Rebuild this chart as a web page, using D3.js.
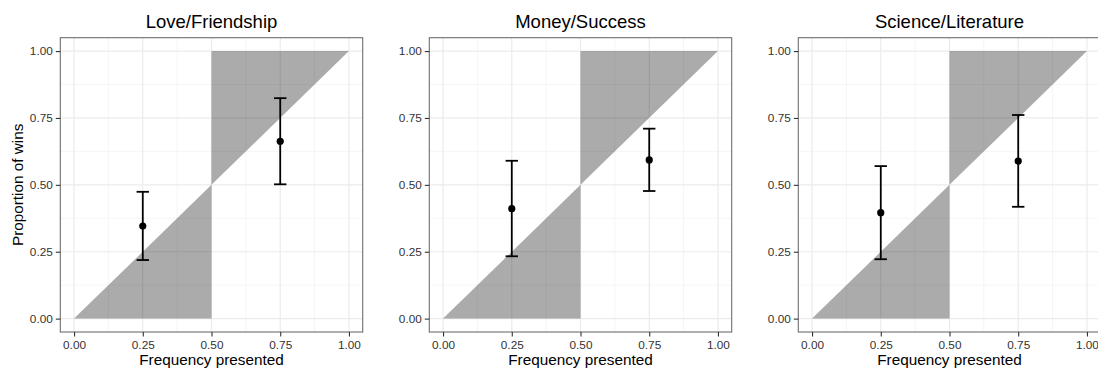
<!DOCTYPE html>
<html>
<head>
<meta charset="utf-8">
<script src="https://cdn.jsdelivr.net/npm/d3@7"></script>
<style>
  body { margin: 0; background: #fff; }
  svg { display: block; font-family: "Liberation Sans", Arial, Helvetica, sans-serif; }
  .tick text { fill: #333; font-size: 11.8px; }
  .tick line { stroke: #333; }
  .domain { display: none; }
</style>
</head>
<body>
<div id="chart"></div>
<script>
const WIDTH = 1098;
const HEIGHT = 369;
const PANEL_W = 302.4;
const PANEL_H = 294.3;
const PANEL_TOP = 37.7;
const PANEL_LEFTS = [60.3, 429.3, 798.3];

// data
const categories = ['Love/Friendship', 'Money/Success', 'Science/Literature'];
const freqPresented = [0.25, 0.75];
const meanWins = [[0.346, 0.663], [0.411, 0.593], [0.396, 0.589]];
const lowerCI = [[0.219, 0.502], [0.233, 0.477], [0.222, 0.418]];
const upperCI = [[0.474, 0.824], [0.590, 0.710], [0.570, 0.761]];
const majorTicks = [0, 0.25, 0.5, 0.75, 1];
const minorTicks = [0.125, 0.375, 0.625, 0.875];
const shadeLower = [[0, 0], [0.5, 0], [0.5, 0.5]];
const shadeUpper = [[0.5, 0.5], [0.5, 1], [1, 1]];
const CAP_WIDTH = 0.045;

const svg = d3.select('#chart')
  .append('svg')
  .attr('width', WIDTH)
  .attr('height', HEIGHT);

const fmt = d3.format('.2f');

categories.forEach((cat, i) => {
  const left = PANEL_LEFTS[i];
  const pad = PANEL_W / 1.1 * 0.05;
  const padY = PANEL_H / 1.1 * 0.05;

  const x = d3.scaleLinear().domain([-0.05, 1.05]).range([0, PANEL_W]);
  const y = d3.scaleLinear().domain([-0.05, 1.05]).range([PANEL_H, 0]);

  const g = svg.append('g')
    .attr('transform', `translate(${left}, ${PANEL_TOP})`);

  // grid
  g.selectAll('.minor-x').data(minorTicks).enter().append('line')
    .attr('x1', d => x(d)).attr('x2', d => x(d))
    .attr('y1', 0).attr('y2', PANEL_H)
    .attr('stroke', '#f3f3f3').attr('stroke-width', 0.8);
  g.selectAll('.minor-y').data(minorTicks).enter().append('line')
    .attr('y1', d => y(d)).attr('y2', d => y(d))
    .attr('x1', 0).attr('x2', PANEL_W)
    .attr('stroke', '#f3f3f3').attr('stroke-width', 0.8);
  g.selectAll('.major-x').data(majorTicks).enter().append('line')
    .attr('x1', d => x(d)).attr('x2', d => x(d))
    .attr('y1', 0).attr('y2', PANEL_H)
    .attr('stroke', '#ebebeb').attr('stroke-width', 1.2);
  g.selectAll('.major-y').data(majorTicks).enter().append('line')
    .attr('y1', d => y(d)).attr('y2', d => y(d))
    .attr('x1', 0).attr('x2', PANEL_W)
    .attr('stroke', '#ebebeb').attr('stroke-width', 1.2);

  // shaded triangles
  const poly = d3.line().x(d => x(d[0])).y(d => y(d[1]));
  [shadeLower, shadeUpper].forEach(tri => {
    g.append('path')
      .attr('d', poly(tri) + 'Z')
      .attr('fill', '#000')
      .attr('fill-opacity', 0.33);
  });

  // error bars
  freqPresented.forEach((f, j) => {
    g.append('line')
      .attr('x1', x(f)).attr('x2', x(f))
      .attr('y1', y(lowerCI[i][j])).attr('y2', y(upperCI[i][j]))
      .attr('stroke', '#000').attr('stroke-width', 1.8);
    [lowerCI[i][j], upperCI[i][j]].forEach(v => {
      g.append('line')
        .attr('x1', x(f - CAP_WIDTH / 2)).attr('x2', x(f + CAP_WIDTH / 2))
        .attr('y1', y(v)).attr('y2', y(v))
        .attr('stroke', '#000').attr('stroke-width', 1.8);
    });
    g.append('circle')
      .attr('cx', x(f)).attr('cy', y(meanWins[i][j]))
      .attr('r', 3.6)
      .attr('fill', '#000');
  });

  // border
  g.append('rect')
    .attr('x', 0).attr('y', 0)
    .attr('width', PANEL_W).attr('height', PANEL_H)
    .attr('fill', 'none')
    .attr('stroke', '#6e6e6e').attr('stroke-width', 1.1);

  // axes
  g.append('g')
    .attr('transform', `translate(0, ${PANEL_H})`)
    .call(d3.axisBottom(x).tickValues(majorTicks).tickFormat(fmt).tickSize(4.5).tickPadding(4))
    .selectAll('line').attr('stroke-width', 1.1);
  g.append('g')
    .call(d3.axisLeft(y).tickValues(majorTicks).tickFormat(fmt).tickSize(4.5).tickPadding(3))
    .selectAll('line').attr('stroke-width', 1.1);
  g.selectAll('.tick text').style('font-size', '11.8px');
  g.selectAll('.tick text').attr('fill', '#333');

  // titles
  g.append('text')
    .attr('x', PANEL_W / 2)
    .attr('y', 28 - PANEL_TOP)
    .attr('text-anchor', 'middle')
    .style('font-size', '18.5px')
    .text(cat);

  g.append('text')
    .attr('x', PANEL_W / 2)
    .attr('y', 365 - PANEL_TOP)
    .attr('text-anchor', 'middle')
    .style('font-size', '15.3px')
    .text('Frequency presented');
});

svg.append('text')
  .attr('transform', `translate(23, ${PANEL_TOP + PANEL_H / 2}) rotate(-90)`)
  .attr('text-anchor', 'middle')
  .style('font-size', '15.3px')
  .text('Proportion of wins');
</script>
</body>
</html>
